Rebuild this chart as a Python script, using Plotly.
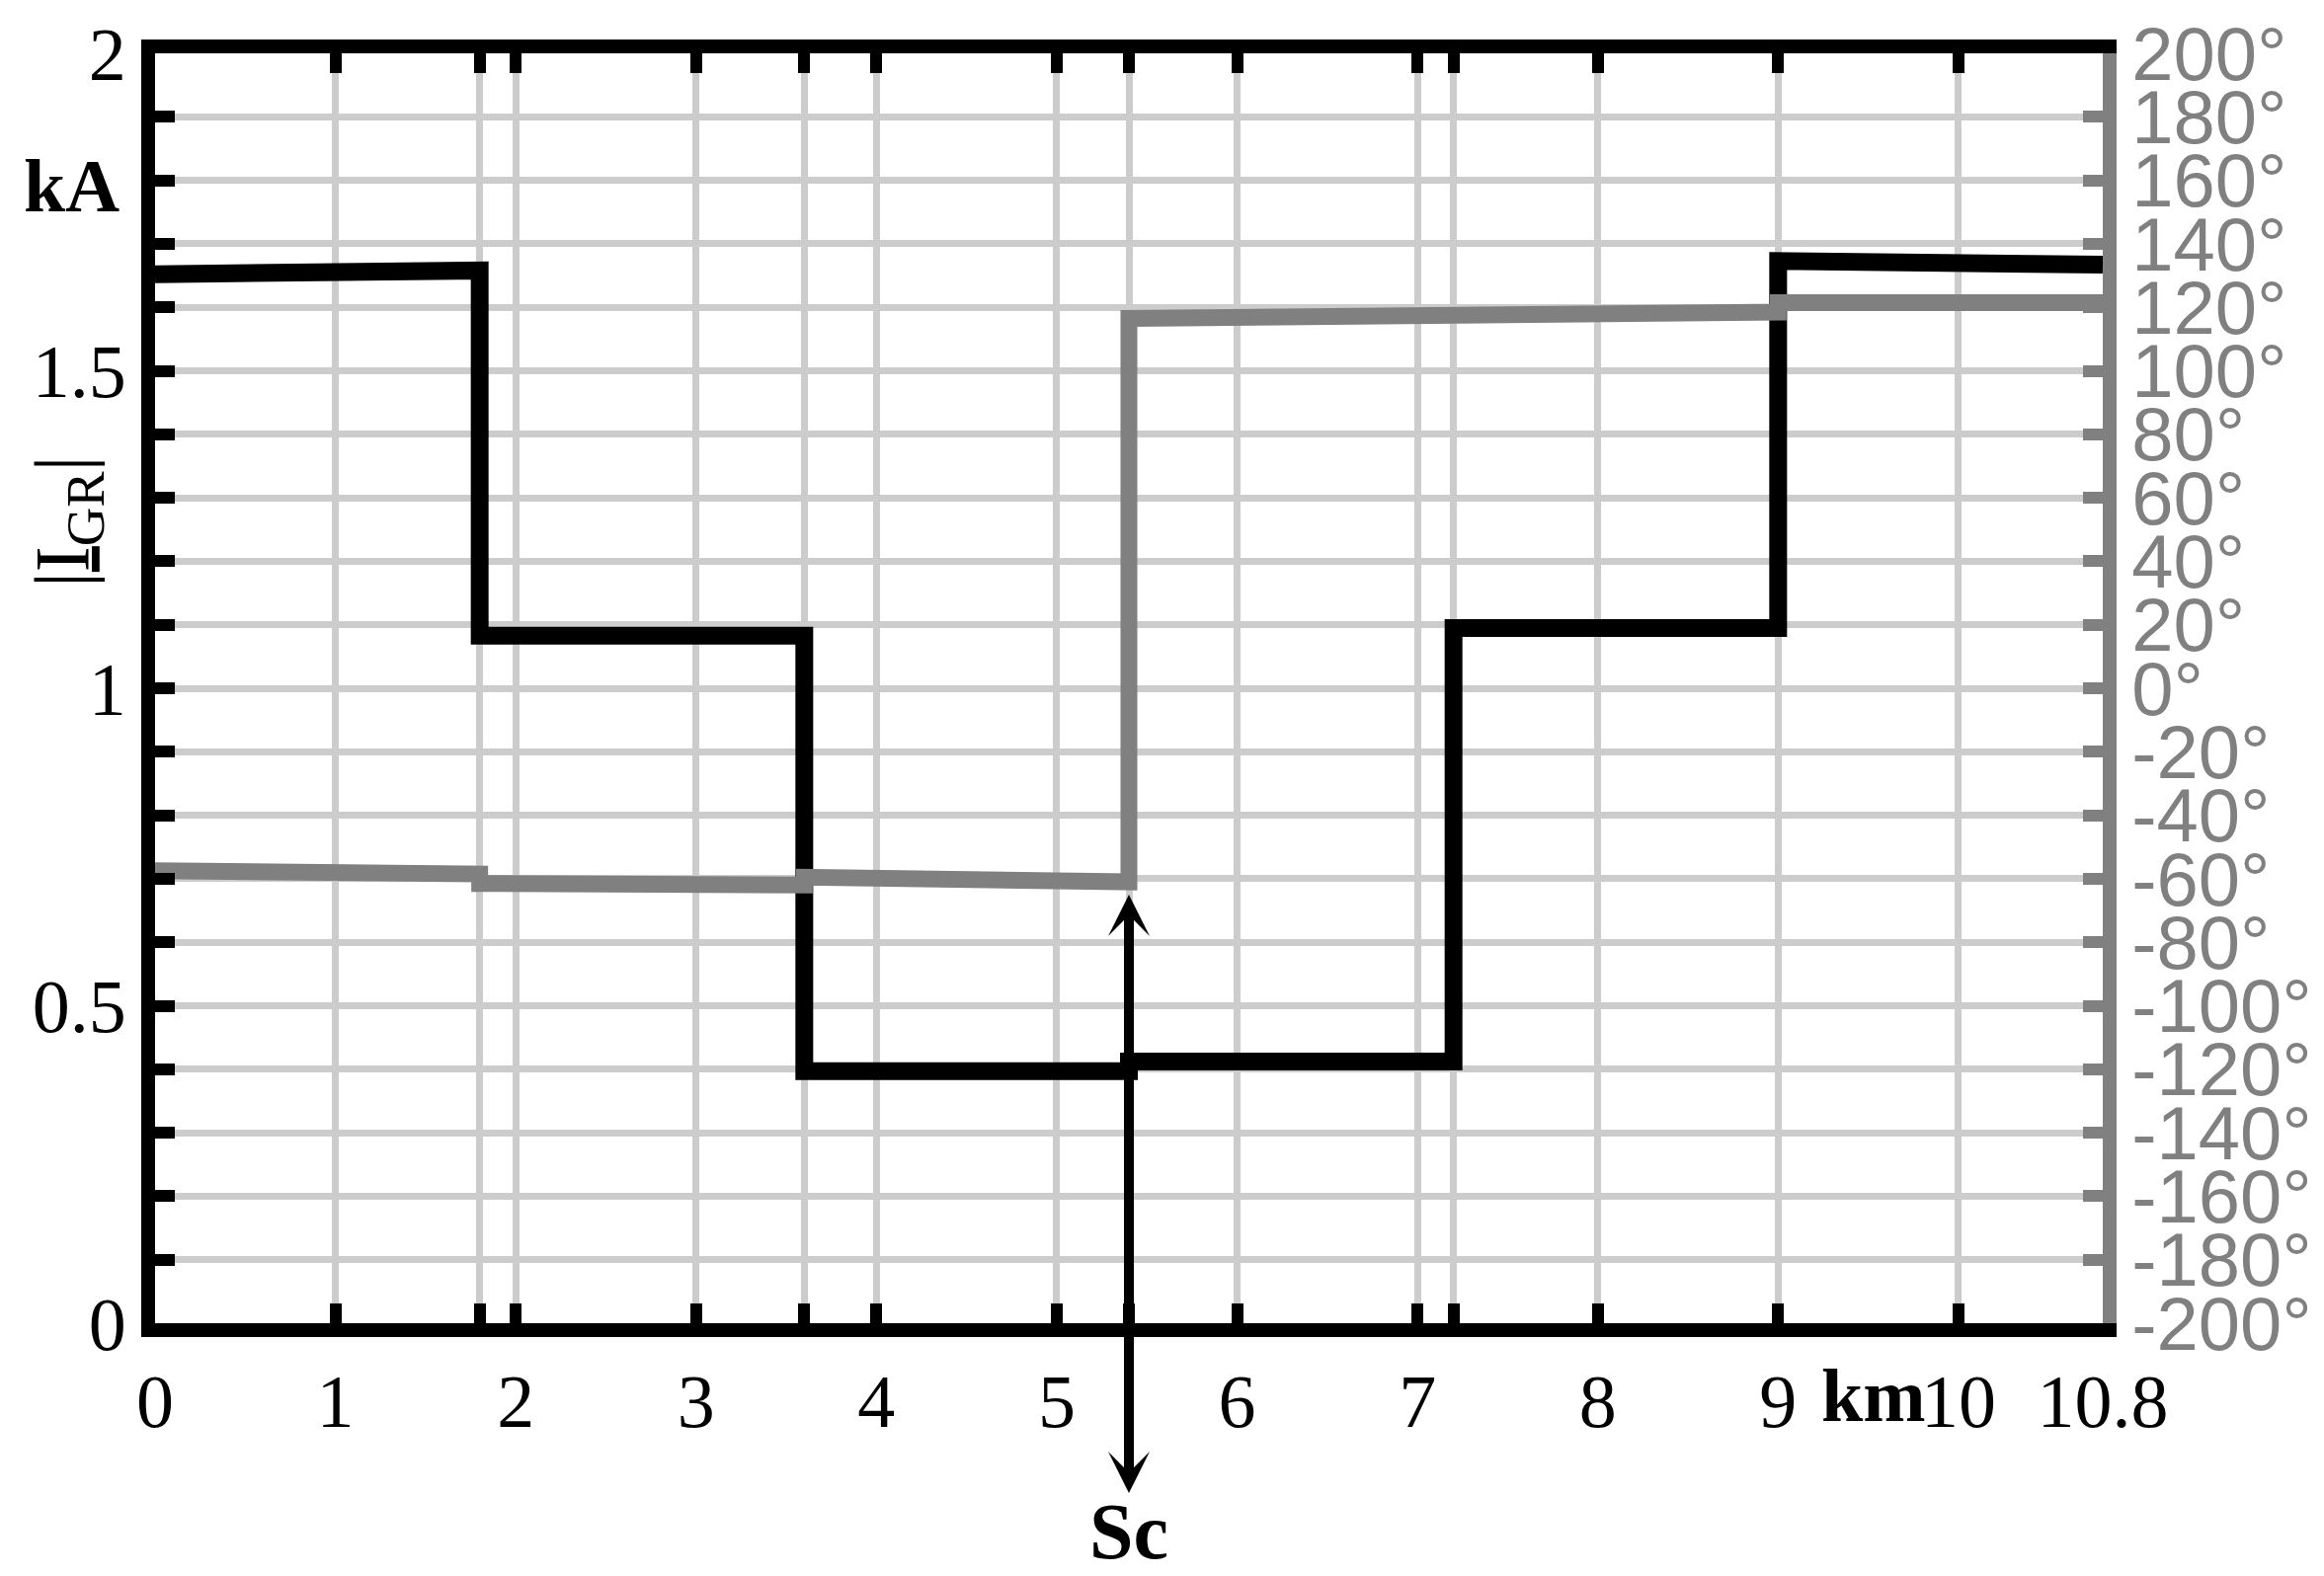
import plotly.graph_objects as go

# section boundaries along the line (km)
breaks_km = [0, 1.8, 3.6, 5.4, 7.2, 9.0, 10.8]
# |I_GR| in kA, value at start / end of each section
igr_start = [1.652, 1.083, 0.397, 0.412, 1.095, 1.673]
igr_end = [1.658, 1.083, 0.397, 0.412, 1.095, 1.667]
# phase angle in degrees, start / end of each section
phase_start = [-57.5, -61.5, -59.5, 116.5, 117.5, 121.5]
phase_end = [-58.5, -62.0, -61.0, 118.0, 118.5, 121.5]

x_labels = ["0", "1", "2", "3", "4", "5", "6", "7", "8", "9", "10", "10.8"]
x_label_pos = [0, 1, 2, 3, 4, 5, 6, 7, 8, 9, 10, 10.8]
deg_ticks = list(range(-200, 201, 20))

sc_km = 5.4
arrow_top = 0.675
arrow_bottom = -0.27

BLACK = "#000000"
GRAY = "#808080"
GRID = "#cccccc"
SERIF = "Liberation Serif"
SANS = "Liberation Sans"


def steps(starts, ends):
    xs, ys = [], []
    for i in range(len(starts)):
        xs += [breaks_km[i], breaks_km[i + 1]]
        ys += [starts[i], ends[i]]
    return xs, ys


xb, yb = steps(igr_start, igr_end)
xg, yg = steps(phase_start, phase_end)

# all x tick / grid positions: integer km plus section boundaries
tick_pos = sorted(set(x_label_pos + breaks_km))
tick_txt = []
for p in tick_pos:
    if p in x_label_pos:
        tick_txt.append(x_labels[x_label_pos.index(p)])
    else:
        tick_txt.append("")

tick_style = dict(ticks="inside", ticklen=20, tickwidth=12)

fig = go.Figure()
fig.add_trace(go.Scatter(x=xb, y=yb, mode="lines", line=dict(color=BLACK, width=18),
                         showlegend=False, hoverinfo="skip"))
# invisible copy so the top axis gets drawn
fig.add_trace(go.Scatter(x=xb, y=yb, mode="lines", xaxis="x2", line=dict(color="rgba(0,0,0,0)", width=1),
                         showlegend=False, hoverinfo="skip"))
fig.add_trace(go.Scatter(x=xg, y=yg, mode="lines", yaxis="y2", line=dict(color=GRAY, width=17),
                         showlegend=False, hoverinfo="skip"))

fig.update_layout(
    width=2353, height=1596,
    margin=dict(l=157, r=222, t=52, b=256),
    plot_bgcolor="white", paper_bgcolor="white",
    xaxis=dict(
        range=[0, 10.8], tickmode="array", tickvals=tick_pos, ticktext=tick_txt,
        showgrid=True, gridcolor=GRID, gridwidth=7, zeroline=False,
        showline=True, linecolor=BLACK, linewidth=14, tickcolor=BLACK, **tick_style,
        tickfont=dict(family=SERIF, size=76, color=BLACK),
    ),
    xaxis2=dict(
        range=[0, 10.8], overlaying="x", side="top", anchor="y",
        tickmode="array", tickvals=tick_pos, showticklabels=False,
        showgrid=False, zeroline=False,
        showline=True, linecolor=BLACK, linewidth=14, tickcolor=BLACK, **tick_style,
    ),
    yaxis=dict(
        range=[0, 2], tickmode="array", tickvals=[0, 0.5, 1, 1.5, 2],
        ticktext=["0", "0.5", "1", "1.5", "2"],
        showgrid=True, gridcolor=GRID, gridwidth=7, zeroline=False,
        showline=True, linecolor=BLACK, linewidth=14, tickcolor=BLACK, **tick_style,
        minor=dict(dtick=0.1, tick0=0, ticks="inside", ticklen=20, tickwidth=12, tickcolor=BLACK,
                   showgrid=True, gridcolor=GRID, gridwidth=7),
        tickfont=dict(family=SERIF, size=76, color=BLACK),
    ),
    yaxis2=dict(
        range=[-200, 200], overlaying="y", side="right",
        tickmode="array", tickvals=deg_ticks, ticktext=[f"{v}°" for v in deg_ticks],
        showgrid=False, zeroline=False,
        showline=True, linecolor=GRAY, linewidth=14, tickcolor=GRAY, **tick_style,
        tickfont=dict(family=SANS, size=76, color=GRAY),
    ),
)

# fault location arrow (double headed)
fig.add_annotation(x=sc_km, y=arrow_top, ax=sc_km, ay=arrow_bottom, xref="x", yref="y",
                   axref="x", ayref="y", text="", showarrow=True, arrowside="end+start",
                   arrowhead=3, startarrowhead=3, arrowsize=0.7, startarrowsize=0.7,
                   arrowwidth=10, arrowcolor=BLACK, standoff=0, startstandoff=0)
fig.add_annotation(x=sc_km, y=-0.164, xref="x", yref="paper", text="<b>Sc</b>", showarrow=False,
                   font=dict(family=SERIF, size=80, color=BLACK), xanchor="center", yanchor="middle")
fig.add_annotation(x=9.53, y=-0.0567, xref="x", yref="paper", text="<b>km</b>", showarrow=False,
                   font=dict(family=SERIF, size=76, color=BLACK), xanchor="center", yanchor="middle")
fig.add_annotation(x=-0.0173, y=1.792, xref="paper", yref="y", text="<b>kA</b>", showarrow=False,
                   font=dict(family=SERIF, size=76, color=BLACK), xanchor="right", yanchor="middle")
fig.add_annotation(x=-0.0452, y=1.263, xref="paper", yref="y", text="|<u>I</u><sub>GR</sub>|",
                   textangle=-90, showarrow=False,
                   font=dict(family=SERIF, size=78, color=BLACK), xanchor="center", yanchor="middle")

fig.write_html("out.html", config={"displayModeBar": False},
               post_script="document.body.style.margin='0';")
